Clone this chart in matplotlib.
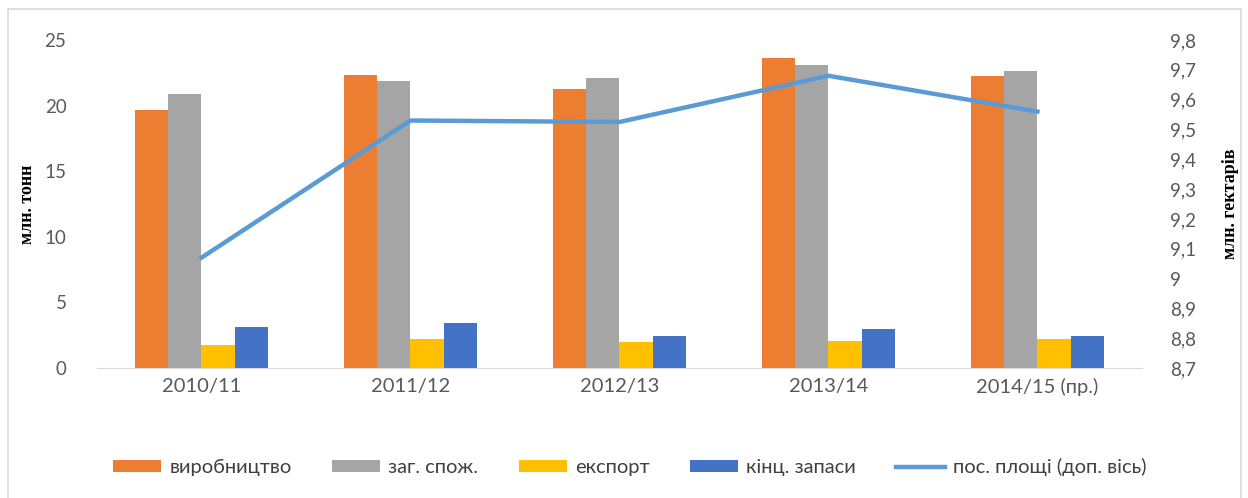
import matplotlib.pyplot as plt
import numpy as np
from matplotlib.patches import Rectangle

# Дані
seasons = ["2010/11", "2011/12", "2012/13", "2013/14", "2014/15 (пр.)"]
vyrobnytstvo = [19.7, 22.3, 21.3, 23.6, 22.25]
zag_spozh = [20.9, 21.9, 22.1, 23.1, 22.6]
eksport = [1.75, 2.2, 2.0, 2.05, 2.2]
zapasy = [3.1, 3.4, 2.45, 2.95, 2.45]
ploshchi = [9.07, 9.53, 9.525, 9.68, 9.56]

bar_series = [
    (vyrobnytstvo, "виробництво", "#ED7D31"),
    (zag_spozh, "заг. спож.", "#A5A5A5"),
    (eksport, "експорт", "#FFC000"),
    (zapasy, "кінц. запаси", "#4472C4"),
]

plt.rcParams['font.family'] = ['Lato', 'DejaVu Sans']
tick_color = "#595959"

fig = plt.figure(figsize=(12.48, 4.98), dpi=100)
ax = fig.add_axes([0.0777, 0.261, 0.8373, 0.6587])

x = np.arange(len(seasons))
w = 0.16
handles = []
for i, (vals, name, col) in enumerate(bar_series):
    b = ax.bar(x + (i - 1.5) * w, vals, width=w, color=col, label=name, zorder=2)
    handles.append(b)

ax.set_xlim(-0.5, len(seasons) - 0.5)
ax.set_ylim(0, 25)
ax.set_yticks(range(0, 26, 5))
ax.set_xticks(x)
ax.set_xticklabels(seasons, fontsize=14.5)
for s in ["top", "right", "left"]:
    ax.spines[s].set_visible(False)
ax.spines["bottom"].set_color("#D9D9D9")
ax.tick_params(axis="both", length=0, colors=tick_color, labelsize=13.5)
ax.tick_params(axis="x", pad=7, labelsize=14.5)
ax.tick_params(axis="y", pad=22)
ax.set_ylabel("млн. тонн", family="Liberation Serif", fontweight="bold",
              fontsize=13, color="black", labelpad=6)

ax2 = ax.twinx()
ax2.set_ylim(8.7, 9.8)
yt = np.round(np.arange(8.7, 9.81, 0.1), 1)
ax2.set_yticks(yt)
ax2.set_yticklabels([("%g" % v).replace(".", ",") for v in yt])
for s in ax2.spines.values():
    s.set_visible(False)
ax2.tick_params(axis="y", length=0, colors=tick_color, labelsize=13.5, pad=20)
line, = ax2.plot(x, ploshchi, color="#5B9BD5", lw=3.2, label="пос. площі (доп. вісь)", zorder=3)
ax2.set_ylabel("млн. гектарів", family="Liberation Serif", fontweight="bold",
               fontsize=13, color="black", rotation=90, labelpad=19)

fig.legend(handles + [line], [h.get_label() for h in handles] + [line.get_label()],
           loc="center", bbox_to_anchor=(0.5045, 0.062), ncol=5, frameon=False,
           fontsize=14.5, handlelength=2.4, handleheight=0.55, columnspacing=2.0,
           handletextpad=0.4, labelcolor="#404040")

fig.patches.append(Rectangle((8 / 1248, -0.01), 1233 / 1248, 1 - 9 / 498 + 0.01,
                             transform=fig.transFigure, fill=False,
                             edgecolor="#D9D9D9", lw=1.2))

fig.savefig("out.png", dpi=100)
